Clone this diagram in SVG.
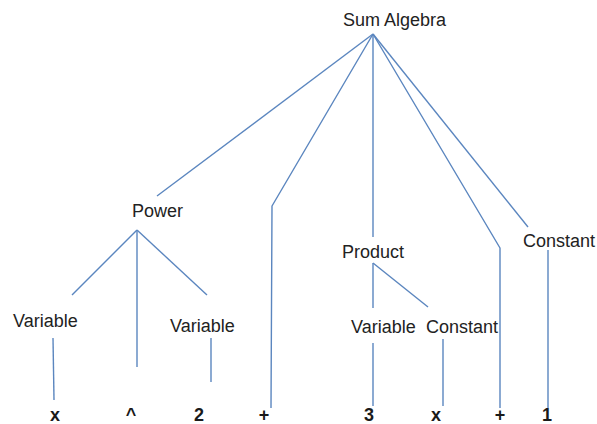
<svg xmlns="http://www.w3.org/2000/svg" width="597" height="424" viewBox="0 0 597 424">
<style>
.lbl{font-family:"Liberation Sans",Arial,sans-serif;font-size:18px;fill:#222222}
.tok{font-family:"Liberation Sans",Arial,sans-serif;font-size:18px;font-weight:bold;fill:#1a1a1a;text-anchor:middle}
.e{fill:none;stroke:#5b86bf;stroke-width:1.4;stroke-linejoin:round}
</style>
<rect width="597" height="424" fill="#ffffff"/>
<g id="connectors">
<path class="e" d="M373,34 L157,196"/>
<path class="e" d="M373,34 L272,206 L271,408"/>
<path class="e" d="M373,34 L373,237"/>
<path class="e" d="M373,34 L500,248 L500,408"/>
<path class="e" d="M373,34 L528,227"/>
<path class="e" d="M137,230 L72,295"/>
<path class="e" d="M137,230 L137,367"/>
<path class="e" d="M137,230 L207,295"/>
<path class="e" d="M53,338 L54,400"/>
<path class="e" d="M211,338 L211,382"/>
<path class="e" d="M373,263 L373,308"/>
<path class="e" d="M373,263 L428,307"/>
<path class="e" d="M373,343 L373,406"/>
<path class="e" d="M443,339 L443,406"/>
<path class="e" d="M548,250 L548,408"/>
</g>
<g id="sum"><text class="lbl" x="343" y="26">Sum Algebra</text></g>
<g id="power"><text class="lbl" x="132" y="217">Power</text></g>
<g id="variable1"><text class="lbl" x="13" y="327">Variable</text></g>
<g id="variable2"><text class="lbl" x="170" y="332">Variable</text></g>
<g id="product"><text class="lbl" x="342" y="258">Product</text></g>
<g id="variable3"><text class="lbl" x="351" y="333">Variable</text></g>
<g id="constant1"><text class="lbl" x="426" y="333">Constant</text></g>
<g id="constant2"><text class="lbl" x="523" y="247">Constant</text></g>
<g id="tokens">
<text class="tok" x="55" y="421">x</text>
<text class="tok" x="131" y="421">^</text>
<text class="tok" x="199" y="421">2</text>
<text class="tok" x="264" y="421">+</text>
<text class="tok" x="369" y="421">3</text>
<text class="tok" x="436" y="421">x</text>
<text class="tok" x="500" y="421">+</text>
<text class="tok" x="547" y="421">1</text>
</g>
</svg>
